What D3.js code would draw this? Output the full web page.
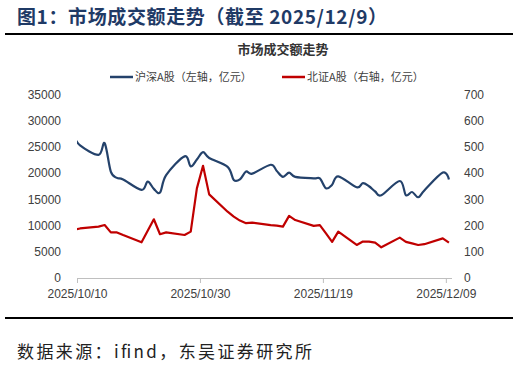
<!DOCTYPE html>
<html>
<head>
  <meta charset="utf-8">
  <title>市场成交额走势</title>
  <style>
    body { margin: 0; background: #fff; }
    text { font-family: "Liberation Sans", Arial, "Noto Sans CJK SC", sans-serif; }
    .cjk { font-family: "Noto Sans CJK SC", sans-serif; }
  </style>
</head>
<body>
  <svg></svg>
  <script src="https://d3js.org/d3.v7.min.js"></script>
  <script>
    // trading days (10/09 sits just left of the axis and gets clipped)
    const dates = [
      "2025-10-09", "2025-10-10", "2025-10-13", "2025-10-14", "2025-10-15", "2025-10-16", "2025-10-17",
      "2025-10-20", "2025-10-21", "2025-10-22", "2025-10-23", "2025-10-24",
      "2025-10-27", "2025-10-28", "2025-10-29", "2025-10-30", "2025-10-31",
      "2025-11-03", "2025-11-04", "2025-11-05", "2025-11-06", "2025-11-07",
      "2025-11-10", "2025-11-11", "2025-11-12", "2025-11-13", "2025-11-14",
      "2025-11-17", "2025-11-18", "2025-11-19", "2025-11-20", "2025-11-21",
      "2025-11-24", "2025-11-25", "2025-11-26", "2025-11-27", "2025-11-28",
      "2025-12-01", "2025-12-02", "2025-12-03", "2025-12-04", "2025-12-05",
      "2025-12-08", "2025-12-09"
    ];
    // 沪深A股, 亿元 (left axis)
    const hsValues = [
      27200, 25300, 23500, 25700, 20300, 19100, 18800,
      16800, 18400, 17000, 16300, 19600,
      23200, 21300, 22600, 24000, 22900,
      21200, 18700, 18800, 20300, 19900,
      21600, 20400, 19300, 20100, 19300,
      19000, 19000, 17100, 17800, 19400,
      17300, 18100, 17500, 16500, 15800,
      18500, 15800, 16400, 15400, 16700,
      20100, 18800
    ];
    // 北证A股, 亿元 (right axis)
    const bzValues = [
      184, 189, 196, 202, 174, 174, 164,
      136, 180, 224, 167, 174,
      164, 177, 342, 428, 319,
      253, 234, 219, 209, 211,
      202, 200, 196, 237, 221,
      199, 202, 170, 138, 177,
      126, 139, 139, 135, 117,
      154, 138, 132, 126, 129,
      151, 135
    ];
    const leftTicks = [0, 5000, 10000, 15000, 20000, 25000, 30000, 35000];
    const rightTicks = [0, 100, 200, 300, 400, 500, 600, 700];
    const xTickDates = ["2025-10-10", "2025-10-30", "2025-11-19", "2025-12-09"];
    const seriesNames = ["沪深A股（左轴，亿元）", "北证A股（右轴，亿元）"];

    const width = 518, height = 365;
    const plotLeft = 77, plotRight = 452, plotTop = 94.5, plotBottom = 278;
    const blue = "#24426b", red = "#c00000";

    const parse = d3.timeParse("%Y-%m-%d");
    // points sit in the middle of their day
    const noon = s => { const d = parse(s); d.setHours(12); return d; };

    const rows = dates.map((s, i) => ({ date: noon(s), hs: hsValues[i], bz: bzValues[i] }));

    const x = d3.scaleTime([parse("2025-10-10"), parse("2025-12-10")], [plotLeft, plotRight]);
    const yL = d3.scaleLinear([0, 35000], [plotBottom, plotTop]);
    const yR = d3.scaleLinear([0, 700], [plotBottom, plotTop]);

    const svg = d3.select("svg")
      .attr("width", width)
      .attr("height", height)
      .attr("viewBox", [0, 0, width, height]);

    // header
    svg.append("text")
      .attr("class", "cjk")
      .attr("x", 17).attr("y", 24)
      .attr("font-size", 19).attr("font-weight", "bold")
      .attr("fill", "#1f3a66")
      .attr("textLength", 370).attr("lengthAdjust", "spacing")
      .text("图1：市场成交额走势（截至 2025/12/9）");
    svg.append("line")
      .attr("x1", 5).attr("x2", 513).attr("y1", 34).attr("y2", 34)
      .attr("stroke", "#000").attr("stroke-width", 2);

    svg.append("text")
      .attr("class", "cjk")
      .attr("x", 283).attr("y", 54)
      .attr("text-anchor", "middle")
      .attr("font-size", 13).attr("font-weight", "bold")
      .attr("fill", "#333")
      .text("市场成交额走势");

    // legend
    const legend = svg.append("g");
    [[110, blue], [282, red]].forEach(([lx, c], i) => {
      legend.append("line")
        .attr("x1", lx).attr("x2", lx + 23).attr("y1", 77).attr("y2", 77)
        .attr("stroke", c).attr("stroke-width", 2.5);
      legend.append("text")
        .attr("class", "cjk")
        .attr("x", lx + 25).attr("y", 81)
        .attr("font-size", 11).attr("fill", "#404040")
        .text(seriesNames[i]);
    });

    // axes
    const left = svg.append("g")
      .attr("transform", `translate(${plotLeft},0)`)
      .call(d3.axisLeft(yL).tickValues(leftTicks).tickSize(0).tickPadding(16).tickFormat(d3.format("d")));
    const right = svg.append("g")
      .attr("transform", `translate(${plotRight},0)`)
      .call(d3.axisRight(yR).tickValues(rightTicks).tickSize(0).tickPadding(12).tickFormat(d3.format("d")));
    [left, right].forEach(g => {
      g.select(".domain").remove();
      g.selectAll("text").attr("font-size", 12).attr("fill", "#404040")
        .attr("font-family", "'Liberation Sans', Arial, sans-serif");
    });

    const bottom = svg.append("g")
      .attr("transform", `translate(0,${plotBottom})`)
      .call(d3.axisBottom(x).tickValues(xTickDates.map(parse)).tickSize(5).tickPadding(6)
        .tickFormat(d3.timeFormat("%Y/%m/%d")));
    bottom.select(".domain")
      .attr("d", `M${plotLeft},0.5H${plotRight}`)
      .attr("stroke", "#bfbfbf");
    bottom.selectAll(".tick line").attr("stroke", "#bfbfbf");
    bottom.selectAll("text").attr("font-size", 12).attr("fill", "#404040")
      .attr("font-family", "'Liberation Sans', Arial, sans-serif");

    // lines
    svg.append("clipPath").attr("id", "plot-clip")
      .append("rect")
      .attr("x", plotLeft).attr("y", 0)
      .attr("width", plotRight - plotLeft + 2).attr("height", plotBottom);

    const plot = svg.append("g").attr("clip-path", "url(#plot-clip)");

    const hsLine = d3.line()
      .x(d => x(d.date))
      .y(d => yL(d.hs))
      .curve(d3.curveCatmullRom.alpha(0));
    const bzLine = d3.line()
      .x(d => x(d.date))
      .y(d => yR(d.bz));

    plot.append("path")
      .datum(rows)
      .attr("fill", "none")
      .attr("stroke", blue)
      .attr("stroke-width", 2.2)
      .attr("stroke-linejoin", "round")
      .attr("d", hsLine);
    plot.append("path")
      .datum(rows)
      .attr("fill", "none")
      .attr("stroke", red)
      .attr("stroke-width", 2.2)
      .attr("stroke-linejoin", "round")
      .attr("d", bzLine);

    // footer
    svg.append("line")
      .attr("x1", 5).attr("x2", 513).attr("y1", 318).attr("y2", 318)
      .attr("stroke", "#000").attr("stroke-width", 2);
    svg.append("text")
      .attr("class", "cjk")
      .attr("x", 17).attr("y", 358)
      .attr("font-size", 17).attr("fill", "#222")
      .attr("textLength", 295).attr("lengthAdjust", "spacing")
      .text("数据来源：ifind，东吴证券研究所");
  </script>
</body>
</html>
